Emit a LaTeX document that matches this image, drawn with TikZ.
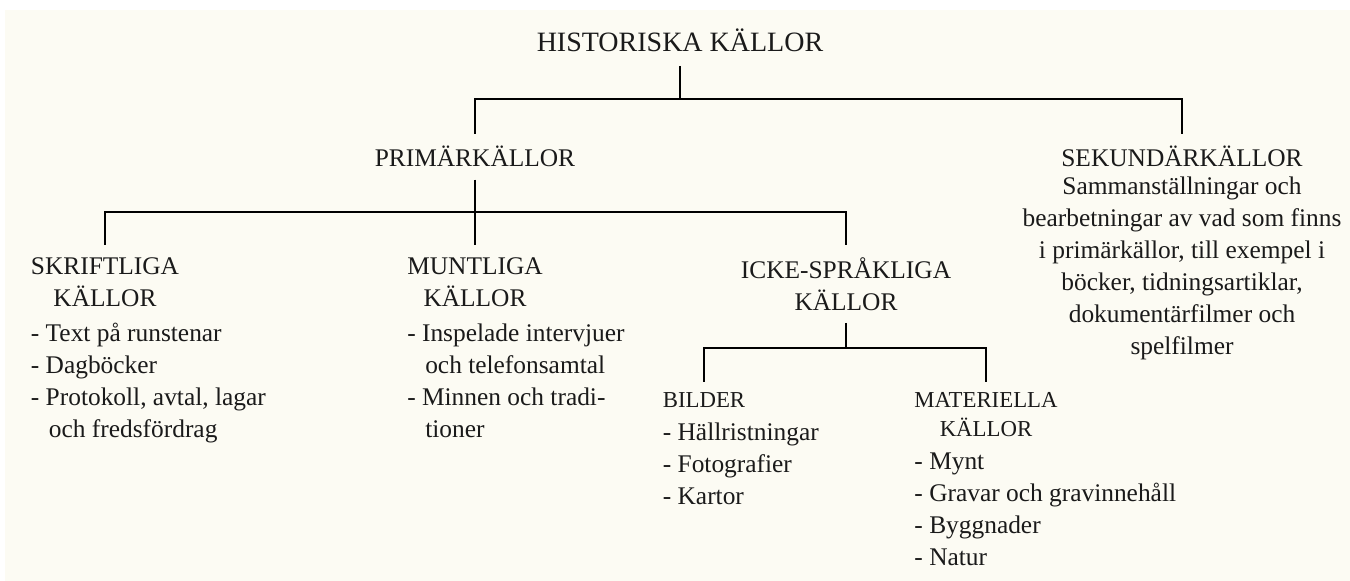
\documentclass[tikz,border=0pt]{standalone}
\usepackage{fontspec}
\setmainfont{Liberation Serif}
\usetikzlibrary{positioning}
\definecolor{papper}{RGB}{252,251,243}
\definecolor{ink}{RGB}{26,26,26}
\begin{document}
\begin{tikzpicture}
	  [
	    x                       = 0.5pt,
	    y                       = -0.5pt,
	    every node/.style       = {font=\fontsize{12.7}{16}\selectfont, text=ink},
	    rubrik/.style           = {anchor=north, align=center, inner xsep=0pt, inner ysep=6pt},
	    underrubrik/.style      = {rubrik, inner ysep=5pt, font=\fontsize{11.4}{14.5}\selectfont},
	    lista/.style            = {anchor=north west, align=left, inner sep=0pt},
	    gren/.style             = {draw=black, line width=1.2pt}
	  ]
	  \useasboundingbox (0,0) rectangle (1350,581);
	  \fill[papper] (5,10) rectangle (1350,581);

	  % toppen
	  \node [font=\fontsize{14}{17}\selectfont, anchor=south, inner sep=7pt] (hist) at (680,66) {HISTORISKA KÄLLOR};
	  \node [rubrik] (prim) at (475,134) {PRIMÄRKÄLLOR};
	  \node [rubrik] (sek) at (1182,134) {SEKUNDÄRKÄLLOR\\[-2pt]Sammanställningar och\\bearbetningar av vad som finns\\i primärkällor, till exempel i\\böcker, tidningsartiklar,\\dokumentärfilmer och\\spelfilmer};

	  % primärkällor
	  \node [rubrik] (skr) at (105,245) {SKRIFTLIGA\\KÄLLOR};
	  \node [below=0pt of skr.south west, lista] (skrlista) {\strut- Text på runstenar\\- Dagböcker\\- Protokoll, avtal, lagar\\\hspace*{9pt}och fredsfördrag};
	  \node [rubrik] (munt) at (475,245) {MUNTLIGA\\KÄLLOR};
	  \node [below=0pt of munt.south west, lista] (muntlista) {\strut- Inspelade intervjuer\\\hspace*{9pt}och telefonsamtal\\- Minnen och tradi-\\\hspace*{9pt}tioner};
	  \node [rubrik] (icke) at (846,245) {ICKE-SPRÅKLIGA\\KÄLLOR};

	  % icke-språkliga
	  \node [underrubrik] (bild) at (704,382) {BILDER};
	  \node [below=0pt of bild.south west, lista] (bildlista) {\strut- Hällristningar\\- Fotografier\\- Kartor};
	  \node [underrubrik] (mat) at (986,382) {MATERIELLA\\KÄLLOR};
	  \node [below=0pt of mat.south west, lista] (matlista) {\strut- Mynt\\- Gravar och gravinnehåll\\- Byggnader\\- Natur};

	  % grenar
	  \coordinate (hist-knut) at (680,99);
	  \coordinate (prim-knut) at (475,212);
	  \coordinate (icke-knut) at (846,348);
	  \draw [gren] (hist.south) -- (hist-knut);
	  \draw [gren] (prim.north) |- (hist-knut) -| (sek.north);
	  \draw [gren] (prim.south) -- (munt.north);
	  \draw [gren] (skr.north) |- (prim-knut) -| (icke.north);
	  \draw [gren] (icke.south) -- (icke-knut);
	  \draw [gren] (bild.north) |- (icke-knut) -| (mat.north);
	\end{tikzpicture}
\end{document}
